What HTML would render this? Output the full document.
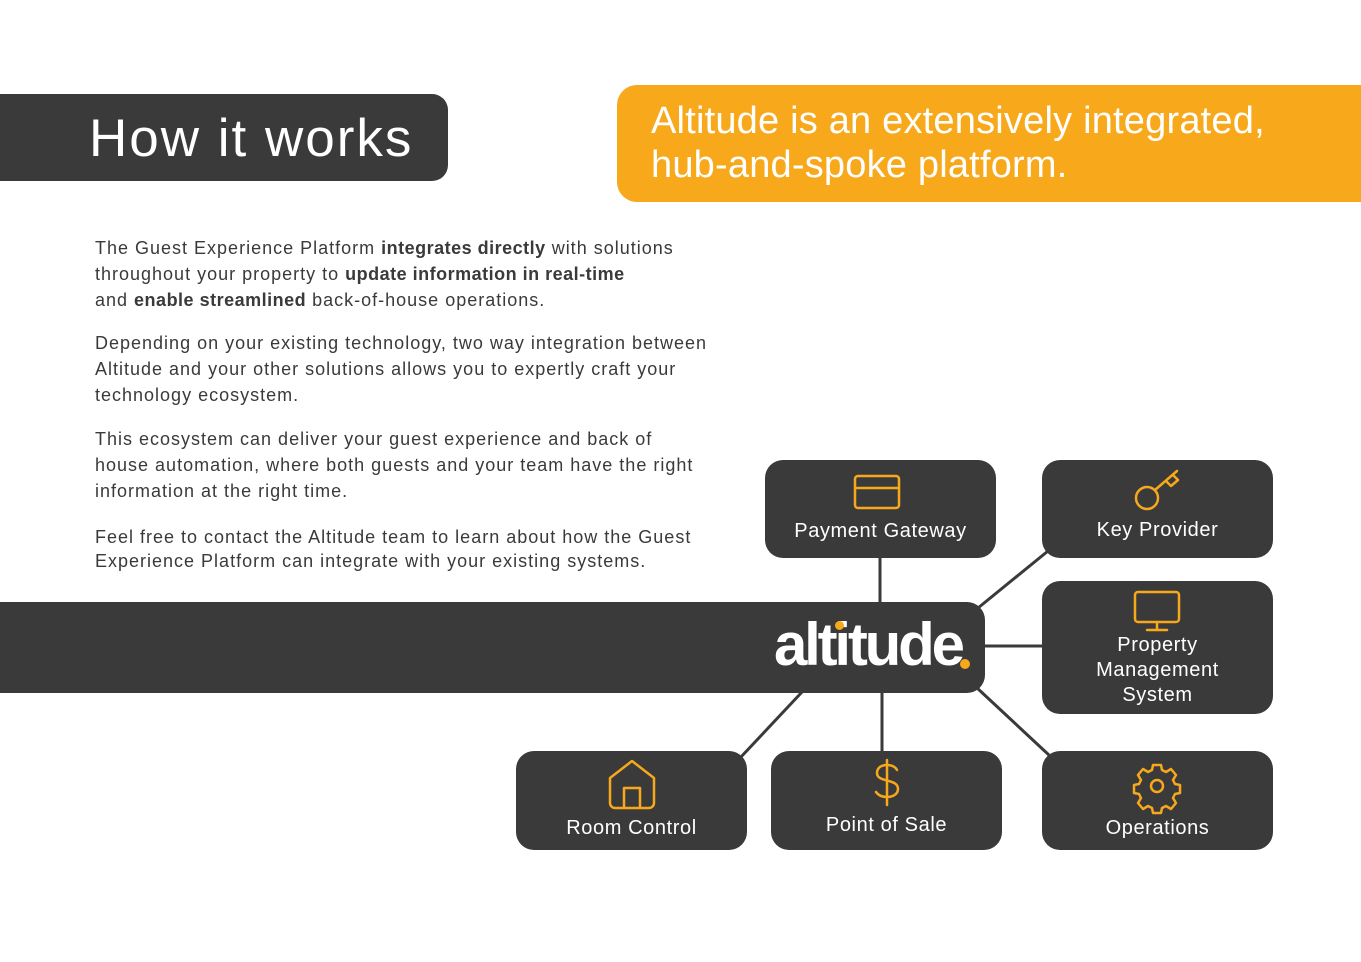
<!DOCTYPE html>
<html><head><meta charset="utf-8"><style>
body{margin:0;width:1361px;height:962px;background:#fff;position:relative;overflow:hidden;font-family:"Liberation Sans",sans-serif;}
.d{position:absolute;background:#3a3a3a;}
.box{position:absolute;background:#3a3a3a;border-radius:18px;color:#fff;text-align:center;font-size:20px;letter-spacing:0.6px;}
.p{position:absolute;left:95px;font-size:18px;line-height:26px;color:#3a3a3a;margin:0;letter-spacing:1px;white-space:nowrap;}
.p b{font-weight:bold;letter-spacing:0.5px}
</style></head><body>
<div class="d" style="left:0;top:94px;width:448px;height:87px;border-radius:0 16px 16px 0;"></div>
<div style="position:absolute;left:89px;top:108px;font-size:53px;color:#fff;letter-spacing:2px;">How it works</div>
<div style="position:absolute;left:617px;top:85px;width:744px;height:117px;background:#f7a81b;border-radius:20px 0 0 20px;"></div>
<div style="position:absolute;left:651px;top:99px;font-size:38px;line-height:44px;color:#fff;letter-spacing:0.2px;">Altitude is an extensively integrated,<br>hub-and-spoke platform.</div>

<p class="p" style="top:235px;">The Guest Experience Platform <b>integrates directly</b> with solutions<br>throughout your property to <b>update information in real-time</b><br>and <b>enable streamlined</b> back-of-house operations.</p>
<p class="p" style="top:330px;">Depending on your existing technology, two way integration between<br>Altitude and your other solutions allows you to expertly craft your<br>technology ecosystem.</p>
<p class="p" style="top:426px;">This ecosystem can deliver your guest experience and back of<br>house automation, where both guests and your team have the right<br>information at the right time.</p>
<p class="p" style="top:525px;line-height:24px;">Feel free to contact the Altitude team to learn about how the Guest<br>Experience Platform can integrate with your existing systems.</p>

<svg style="position:absolute;left:0;top:0" width="1361" height="962">
<g stroke="#3a3a3a" stroke-width="3">
<line x1="880" y1="555" x2="880" y2="605"/>
<line x1="978" y1="608" x2="1048" y2="551"/>
<line x1="982" y1="646" x2="1045" y2="646"/>
<line x1="976" y1="687" x2="1050" y2="756"/>
<line x1="882" y1="690" x2="882" y2="752"/>
<line x1="802" y1="692" x2="740" y2="758"/>
</g></svg>

<div class="d" style="left:0;top:602px;width:985px;height:91px;border-radius:0 18px 18px 0;"></div>
<div style="position:absolute;left:774px;top:610px;font-size:60px;font-weight:bold;color:#fff;letter-spacing:-3.2px;">altitude</div>
<div style="position:absolute;left:960px;top:659px;width:10px;height:10px;border-radius:50%;background:#f7a81b;"></div>
<div style="position:absolute;left:835px;top:621px;width:9px;height:9px;border-radius:50%;background:#f7a81b;"></div>

<div class="box" style="left:765px;top:460px;width:231px;height:98px;"><div style="margin-top:60px;">Payment Gateway</div></div>
<div class="box" style="left:1042px;top:460px;width:231px;height:98px;"><div style="margin-top:59px;">Key Provider</div></div>
<div class="box" style="left:1042px;top:581px;width:231px;height:133px;"><div style="margin-top:52px;line-height:25px;">Property<br>Management<br>System</div></div>
<div class="box" style="left:516px;top:751px;width:231px;height:99px;"><div style="margin-top:66px;">Room Control</div></div>
<div class="box" style="left:771px;top:751px;width:231px;height:99px;"><div style="margin-top:63px;">Point of Sale</div></div>
<div class="box" style="left:1042px;top:751px;width:231px;height:99px;"><div style="margin-top:66px;">Operations</div></div>

<svg style="position:absolute;left:0;top:0" width="1361" height="962" fill="none" stroke="#f7a81b" stroke-width="2.5" stroke-linejoin="round" stroke-linecap="round">
<rect x="855" y="476" width="44" height="32" rx="3"/><line x1="855" y1="488" x2="899" y2="488"/>
<circle cx="1147" cy="498" r="11"/><line x1="1155" y1="490" x2="1177" y2="471"/><path d="M1166 481 l5 5 l7-6 l-5-5"/>
<rect x="1135" y="592" width="44" height="30" rx="3"/><line x1="1157" y1="622" x2="1157" y2="630"/><line x1="1147" y1="630" x2="1167" y2="630"/>
<path d="M610 778 L632 761 L654 778 V803 a5 5 0 0 1-5 5 H615 a5 5 0 0 1-5-5 Z"/><path d="M624 808 V788 H640 V808"/>
<path d="M897 770 c-2-4-6-5-10-5 c-6 0-10 3-10 8 c0 10 21 5 21 16 c0 5-5 8-11 8 c-5 0-9-2-11-5"/><line x1="887" y1="760" x2="887" y2="805"/>
<circle cx="1157" cy="786" r="6"/>
<path d="M1153 765 h8 l1 5 l4 2 l5-3 l5 6 l-3 5 l2 4 l5 1 v8 l-5 1 l-2 4 l3 5 l-5 6 l-5-3 l-4 2 l-1 5 h-8 l-1-5 l-4-2 l-5 3 l-5-6 l3-5 l-2-4 l-5-1 v-8 l5-1 l2-4 l-3-5 l5-6 l5 3 l4-2 z"/>
</svg>
</body></html>
